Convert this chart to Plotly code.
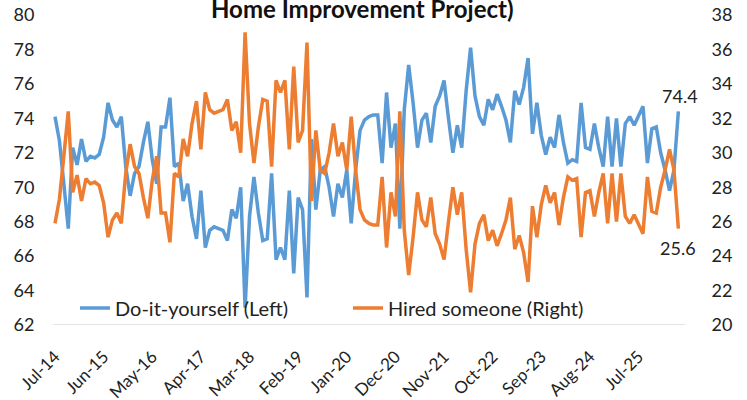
import plotly.graph_objects as go
import pandas as pd

months = [d.strftime("%b-%y") for d in pd.date_range("2014-07-01", periods=142, freq="MS")]

diy = [74.1, 72.7, 70.2, 67.6, 72.3, 71.3, 72.8, 71.5, 71.8, 71.7,
       71.9, 72.9, 74.9, 73.9, 73.5, 74.1, 71.2, 69.5, 70.8, 71.2,
       72.6, 73.8, 71.6, 70.2, 73.5, 73.5, 75.2, 71.2, 71.4, 69.2,
       70.2, 68.3, 67.0, 69.8, 66.5, 67.5, 67.7, 67.6, 67.5, 66.9,
       68.7, 68.2, 70.0, 63.0, 68.3, 70.6, 68.5, 66.9, 67.0, 70.8,
       65.8, 66.5, 65.8, 69.8, 65.0, 69.4, 68.7, 63.6, 72.8, 68.7,
       71.0, 71.2, 70.0, 68.3, 70.2, 69.4, 71.0, 67.9, 71.0, 73.3,
       73.9, 74.1, 74.2, 74.2, 71.4, 75.5, 72.3, 73.7, 67.6, 74.5,
       77.1, 74.9, 72.3, 73.9, 74.3, 72.6, 74.7, 75.3, 76.2, 74.0,
       72.0, 73.6, 72.3, 75.6, 78.1, 75.3, 74.1, 73.6, 75.1, 74.5,
       75.4, 74.7, 73.9, 72.6, 75.6, 74.8, 75.8, 77.5, 73.1, 74.9,
       73.0, 71.9, 72.9, 72.3, 74.2, 72.6, 71.4, 71.6, 71.5, 74.9,
       72.3, 72.2, 73.7, 72.3, 71.2, 74.1, 71.2, 74.0, 71.2, 73.7,
       74.1, 73.6, 74.1, 74.7, 71.4, 73.4, 73.5, 72.0, 71.0, 69.8,
       71.0, 74.4]

hired = [25.9, 27.3, 29.8, 32.4, 27.7, 28.7, 27.2, 28.5, 28.2, 28.3,
         28.1, 27.1, 25.1, 26.1, 26.5, 25.9, 28.8, 30.5, 29.2, 28.8,
         27.4, 26.2, 28.4, 29.8, 26.5, 26.5, 24.8, 28.8, 28.6, 30.8,
         29.8, 31.7, 33.0, 30.2, 33.5, 32.5, 32.3, 32.4, 32.5, 33.1,
         31.3, 31.8, 30.0, 37.0, 31.7, 29.4, 31.5, 33.1, 33.0, 29.2,
         34.2, 33.5, 34.2, 30.2, 35.0, 30.6, 31.3, 36.4, 27.2, 31.3,
         29.0, 28.8, 30.0, 31.7, 29.8, 30.6, 29.0, 32.1, 29.0, 26.7,
         26.1, 25.9, 25.8, 25.8, 28.6, 24.5, 27.7, 26.3, 32.4, 25.5,
         22.9, 25.1, 27.7, 26.1, 25.7, 27.4, 25.3, 24.7, 23.8, 26.0,
         28.0, 26.4, 27.7, 24.4, 21.9, 24.7, 25.9, 26.4, 24.9, 25.5,
         24.6, 25.3, 26.1, 27.4, 24.4, 25.2, 24.2, 22.5, 26.9, 25.1,
         27.0, 28.1, 27.1, 27.7, 25.8, 27.4, 28.6, 28.4, 28.5, 25.1,
         27.7, 27.8, 26.3, 27.7, 28.8, 25.9, 28.8, 26.0, 28.8, 26.3,
         25.9, 26.4, 25.9, 25.3, 28.6, 26.6, 26.5, 28.0, 29.0, 30.2,
         29.0, 25.6]

tick_labels = ["Jul-14", "Jun-15", "May-16", "Apr-17", "Mar-18", "Feb-19", "Jan-20",
               "Dec-20", "Nov-21", "Oct-22", "Sep-23", "Aug-24", "Jul-25"]

BLUE = "#5B9BD5"
ORANGE = "#ED7D31"
FONT = "Lato"
W, H = 747, 400
L, T = 53, 15
pw, ph = 632, 310
R = W - L - pw
B = H - T - ph


def px(xpage):
    return (xpage - L) / pw


def py(ypage):
    return 1 - (ypage - T) / ph


fig = go.Figure()
fig.add_trace(go.Scatter(x=months, y=diy, mode="lines", name="Do-it-yourself (Left)",
                         line=dict(color=BLUE, width=3.5), yaxis="y", legend="legend"))
fig.add_trace(go.Scatter(x=months, y=hired, mode="lines", name="Hired someone (Right)",
                         line=dict(color=ORANGE, width=3.5), yaxis="y2", legend="legend2"))

fig.add_annotation(x=months[-1], y=diy[-1], xref="x", yref="y", text=f"{diy[-1]:.1f}",
                   showarrow=False, yanchor="bottom", yshift=2, xshift=2,
                   font=dict(family=FONT, size=18, color="#222"))
fig.add_annotation(x=months[-1], y=hired[-1], xref="x", yref="y2", text=f"{hired[-1]:.1f}",
                   showarrow=False, yanchor="top", yshift=-6,
                   font=dict(family=FONT, size=18, color="#222"))

fig.add_annotation(x=px(362), y=py(25), xref="paper", yref="paper",
                   text="<b>Home Improvement Project)</b>", showarrow=False,
                   xanchor="center", yanchor="bottom",
                   font=dict(family=FONT, size=24, color="#111"))

fig.update_layout(
    width=W, height=H,
    margin=dict(l=L, r=R, t=T, b=B, autoexpand=False),
    paper_bgcolor="white", plot_bgcolor="white",
    font=dict(family=FONT, size=17, color="#222"),
    xaxis=dict(type="category", range=[-0.45, 142.5], automargin=False,
               tickmode="array", tickvals=tick_labels, ticktext=tick_labels,
               tickangle=-45, showgrid=False, zeroline=False, ticklabeloverflow="allow",
               showline=False, ticks="outside", ticklen=14, tickcolor="rgba(0,0,0,0)",
               tickfont=dict(family=FONT, size=17, color="#222")),
    yaxis=dict(range=[62, 80], dtick=2, showgrid=False, zeroline=False, automargin=False,
               showline=False, ticks="outside", ticklen=14, tickcolor="rgba(0,0,0,0)",
               ticklabeloverflow="allow",
               tickfont=dict(family=FONT, size=18, color="#222")),
    yaxis2=dict(range=[20, 38], dtick=2, overlaying="y", side="right", showgrid=False,
                zeroline=False, showline=False, ticks="outside", ticklen=22,
                tickcolor="rgba(0,0,0,0)", automargin=False, ticklabeloverflow="allow",
                tickfont=dict(family=FONT, size=18, color="#222")),
    legend=dict(orientation="h", x=px(75), y=py(308),
                xanchor="left", yanchor="middle", bgcolor="rgba(0,0,0,0)",
                font=dict(family=FONT, size=20, color="#222")),
    legend2=dict(orientation="h", x=px(348), y=py(308),
                 xanchor="left", yanchor="middle", bgcolor="rgba(0,0,0,0)",
                 font=dict(family=FONT, size=20, color="#222")),
    showlegend=True,
)

fig.add_shape(type="line", xref="paper", yref="y", x0=0, x1=1, y0=62, y1=62,
              line=dict(color="#D9D9D9", width=1.5))

fig.write_html("out.html", config={"displayModeBar": False},
               post_script="document.body.style.margin='0';")
